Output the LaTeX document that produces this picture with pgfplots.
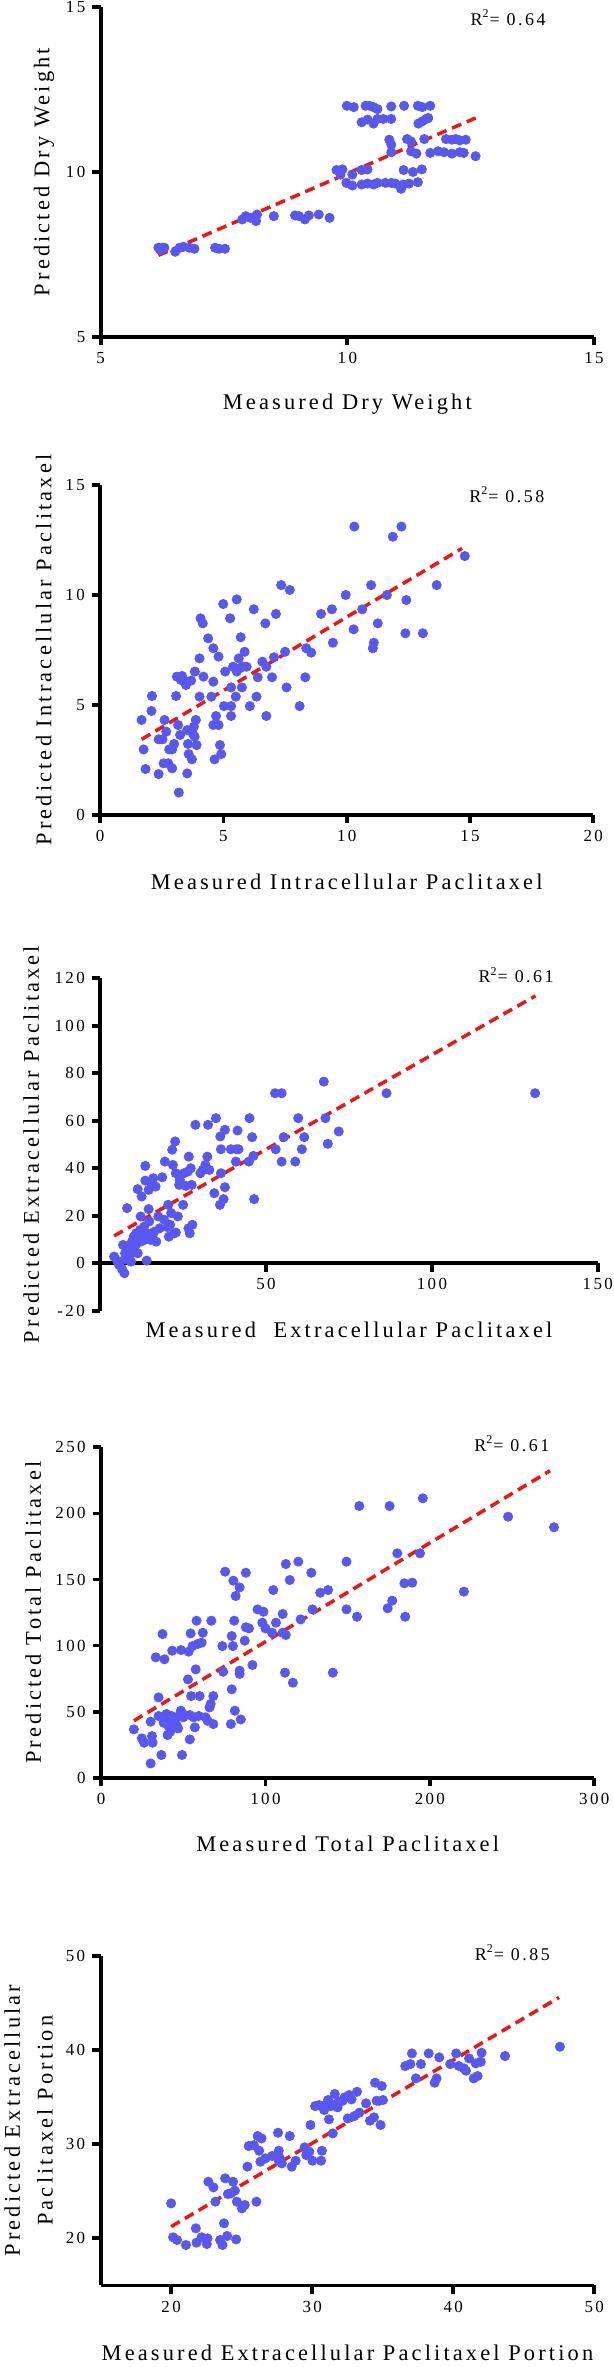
\documentclass[border=0pt]{standalone}
\usepackage{fontspec}
\setmainfont{Liberation Serif}[LetterSpace=14]
\usepackage{pgfplots}
\pgfplotsset{compat=1.18}

\definecolor{dotblue}{RGB}{88,88,240}
\definecolor{fitred}{RGB}{240,20,20}

\tikzset{rsq/.style={font=\fontsize{9}{11}\selectfont, anchor=center}}
\pgfplotsset{
  panel/.style={
    scale only axis, clip=false,
    axis x line*=bottom, axis y line*=left,
    axis line style={line width=1.9bp},
    tick style={line width=1.9bp, black},
    major tick length=4.2bp, tick align=outside,
    minor tick num=0,
    ticklabel style={font=\fontsize{8.5}{10}\selectfont},
    label style={font=\fontsize{11.25}{13.5}\selectfont},
    /pgf/number format/assume math mode=true,
  },
  dots/.style={only marks, mark=*, mark size=2.3bp, color=dotblue, mark options={draw=dotblue, fill=dotblue}},
  fit/.style={no marks, color=fitred, line width=1.75bp, dash pattern=on 5bp off 3bp},
}

\begin{document}
\begin{tikzpicture}
\useasboundingbox (0,0) rectangle (307bp,-1183.5bp);

% ---------- dry weight
\begin{axis}[panel, at={(50.35bp,-168.35bp)}, anchor=south west,
  width=246.65bp, height=164.7bp,
  xmin=5, xmax=15, ymin=5, ymax=15,
  xtick={5,10,15}, ytick={5,10,15},
  xlabel={Measured Dry Weight}, ylabel={Predicted Dry Weight},
  xlabel style={at={(axis description cs:0.5,-0.2043)}, anchor=center},
  ylabel style={at={(axis description cs:-0.1149,0.5)}, anchor=center},
]
\addplot[dots] table {
x y
6.17 7.70
6.25 7.70
6.21 7.63
6.29 7.70
6.51 7.58
6.60 7.70
6.68 7.73
6.80 7.70
6.90 7.67
7.32 7.70
7.40 7.67
7.52 7.67
7.87 8.56
7.94 8.66
8.03 8.61
8.15 8.51
8.17 8.71
8.51 8.66
8.94 8.68
9.02 8.66
9.14 8.56
9.22 8.68
9.42 8.71
9.64 8.61
9.99 12.01
10.13 11.97
10.37 12.01
10.45 12.01
10.53 11.97
10.61 11.91
10.89 11.99
11.15 12.01
11.43 12.01
11.52 11.97
11.68 12.01
10.29 11.51
10.41 11.59
10.53 11.47
10.61 11.61
10.73 11.61
10.89 11.61
11.44 11.47
11.52 11.54
11.60 11.61
11.64 11.64
10.85 10.98
10.89 10.83
11.21 11.00
11.29 10.93
11.56 11.00
12.00 11.00
12.12 10.98
12.20 11.00
12.28 10.96
12.40 10.98
10.89 10.60
11.29 10.63
11.40 10.56
11.68 10.58
11.84 10.63
11.96 10.60
12.12 10.56
12.28 10.60
12.36 10.58
12.60 10.48
9.78 10.06
9.90 10.08
9.86 9.92
10.10 9.92
10.29 10.06
10.41 10.08
11.14 10.06
11.33 10.00
11.51 10.08
9.98 9.67
10.10 9.59
10.29 9.62
10.41 9.65
10.53 9.62
10.61 9.67
10.77 9.67
10.89 9.67
10.97 9.65
11.09 9.49
11.13 9.62
11.25 9.65
11.43 9.69
};
\addplot[fit] coordinates {(6.17,7.47) (12.60,11.64)};
\node[rsq] at (rel axis cs:0.826,0.969) {R\textsuperscript{2}= 0.64};
\end{axis}

% ---------- intracellular
\begin{axis}[panel, at={(50.1bp,-407.5bp)}, anchor=south west,
  width=246.5bp, height=165bp,
  xmin=0, xmax=20, ymin=0, ymax=15,
  xtick={0,5,10,15,20}, ytick={0,5,10,15},
  xlabel={Measured Intracellular Paclitaxel}, ylabel={Predicted Intracellular Paclitaxel},
  xlabel style={at={(axis description cs:0.5,-0.2021)}, anchor=center},
  ylabel style={at={(axis description cs:-0.1144,0.5)}, anchor=center},
]
\addplot[dots] table {
x y
1.68 4.32
1.76 2.98
1.84 2.09
2.08 4.73
2.10 5.41
2.37 1.86
2.37 3.44
2.57 2.35
2.61 4.32
2.53 3.44
2.68 3.79
2.76 2.35
2.80 2.98
2.92 2.98
2.92 2.12
3.00 3.23
3.08 5.41
3.11 6.29
3.16 4.09
3.19 1.02
3.24 3.64
3.27 6.14
3.32 6.32
3.40 6.11
3.48 5.91
3.53 3.86
3.53 1.89
3.56 3.23
3.59 2.77
3.69 6.11
3.72 2.53
3.75 3.71
3.80 4.02
3.83 3.56
3.84 6.52
3.88 4.32
3.91 3.18
4.03 5.38
4.03 7.12
4.07 8.94
4.16 8.71
4.19 6.29
4.38 8.03
4.51 5.38
4.59 6.06
4.59 7.58
4.59 4.09
4.64 2.53
4.70 4.50
4.80 7.20
4.80 4.09
4.86 3.18
4.91 2.77
4.99 9.59
5.02 4.95
5.07 6.52
5.27 8.94
5.31 5.80
5.31 4.95
5.31 4.50
5.39 6.74
5.50 5.38
5.54 9.80
5.54 6.52
5.62 7.12
5.66 6.67
5.70 8.08
5.75 5.80
5.78 6.74
5.86 7.42
5.94 6.74
6.07 4.95
6.23 9.35
6.34 5.38
6.39 6.26
6.58 6.97
6.70 8.71
6.74 6.74
6.74 4.50
6.97 6.26
7.05 7.17
7.13 9.14
7.34 10.45
7.50 7.42
7.56 5.80
7.69 10.23
8.09 4.95
8.32 6.26
8.36 7.58
8.56 7.38
8.96 9.14
9.40 9.35
9.44 7.83
9.96 10.00
10.28 8.44
10.31 13.11
10.63 9.35
10.99 10.45
11.06 7.58
11.10 7.83
11.26 8.71
11.63 10.00
11.87 12.65
12.22 13.11
12.38 8.26
12.42 9.77
13.09 8.26
13.65 10.45
14.79 11.77
};
\addplot[fit] coordinates {(1.68,3.44) (14.68,12.12)};
\node[rsq] at (rel axis cs:0.825,0.970) {R\textsuperscript{2}= 0.58};
\end{axis}

% ---------- extracellular
\begin{axis}[panel, at={(50.1bp,-655.35bp)}, anchor=south west,
  width=248.8bp, height=166.2bp,
  axis x line*=middle,
  xmin=0, xmax=150, ymin=-20, ymax=120,
  xtick={50,100,150}, ytick={-20,0,20,40,60,80,100,120},
  xlabel={Measured \ Extracellular Paclitaxel}, ylabel={Predicted Extracellular Paclitaxel},
  xlabel style={at={(axis description cs:0.5,-0.0581)}, anchor=center},
  ylabel style={at={(axis description cs:-0.1387,0.5)}, anchor=center},
]
\addplot[dots] table {
x y
4.2 2.8
5.1 1.1
5.7 -0.7
6.6 -2.5
7.3 -4.2
7.5 1.7
6.9 7.7
7.5 4.2
8.1 23.2
8.1 5.6
8.7 7.3
8.9 3.5
9.3 0.7
9.6 9.1
9.9 4.9
10.1 11.2
10.5 7.0
10.8 12.6
11.0 8.4
11.3 4.2
11.6 10.5
12.0 14.0
12.2 9.1
12.2 19.7
12.5 28.1
12.8 11.9
11.3 31.2
13.2 15.4
13.4 9.8
13.6 41.0
13.6 34.8
14.0 1.1
14.3 12.6
14.6 22.8
14.8 17.6
14.6 30.9
15.2 9.8
15.5 33.7
15.8 11.9
16.0 35.8
16.3 13.3
16.7 32.3
16.9 9.1
17.5 19.7
17.9 14.7
18.7 36.2
19.3 18.3
19.5 42.8
20.3 15.2
20.5 24.6
20.7 11.2
21.1 16.2
21.4 21.1
21.7 47.8
21.9 41.4
22.3 12.6
22.6 51.3
22.8 37.9
22.8 12.9
23.4 19.7
23.8 33.0
24.0 35.1
25.0 24.6
25.2 37.9
25.8 32.6
26.4 38.6
26.6 14.7
26.7 44.9
27.0 12.6
27.3 40.0
27.6 33.0
27.8 16.2
28.7 58.3
30.2 37.9
30.9 39.3
31.7 41.4
32.3 44.9
32.5 58.3
32.9 39.3
34.4 29.5
34.9 61.1
36.1 24.6
36.2 53.4
36.4 48.0
36.4 37.9
37.2 27.0
37.6 32.0
37.6 56.2
39.4 48.0
40.9 42.8
41.1 48.0
41.4 55.9
41.7 48.0
44.8 42.8
45.0 61.1
45.8 53.1
46.2 45.2
46.4 27.0
52.7 71.6
52.9 48.0
54.7 71.6
54.7 42.8
55.3 53.1
58.8 42.8
59.7 61.1
60.8 48.0
61.5 53.1
67.4 76.5
67.9 61.1
68.6 50.3
71.9 55.5
86.3 71.6
131.1 71.6
};
\addplot[fit] coordinates {(4.2,11.5) (131.2,112.6)};
\node[rsq] at (rel axis cs:0.836,1.01) {R\textsuperscript{2}= 0.61};
\end{axis}

% ---------- total
\begin{axis}[panel, at={(50.5bp,-888.85bp)}, anchor=south west,
  width=246.65bp, height=165.2bp,
  xmin=0, xmax=300, ymin=0, ymax=250,
  xtick={0,100,200,300}, ytick={0,50,100,150,200,250},
  xlabel={Measured Total Paclitaxel}, ylabel={Predicted Total Paclitaxel},
  xlabel style={at={(axis description cs:0.5,-0.2007)}, anchor=center},
  ylabel style={at={(axis description cs:-0.1372,0.5)}, anchor=center},
]
\addplot[dots] table {
x y
20.0 36.6
24.8 29.8
26.2 26.5
30.2 42.4
30.2 10.8
31.0 31.5
31.4 26.5
33.3 91.1
35.0 60.8
35.0 46.7
36.7 17.2
37.4 108.7
38.1 41.6
38.6 89.6
39.8 48.2
40.5 32.3
41.0 39.1
41.4 44.1
42.1 34.8
42.9 46.7
43.3 96.1
43.8 40.6
45.2 44.1
46.2 39.1
46.9 37.3
47.6 46.7
48.6 96.6
48.6 50.7
49.3 17.2
50.0 45.7
51.0 47.4
52.9 74.4
53.3 95.4
54.0 29.0
54.0 47.4
54.5 109.2
54.8 61.8
55.7 99.6
56.4 45.7
57.1 38.1
57.6 82.0
58.1 118.8
58.8 101.2
59.5 46.7
60.0 61.8
61.2 102.2
61.9 109.7
63.6 45.7
64.8 43.1
66.0 53.2
66.7 55.8
67.1 118.8
68.3 61.8
68.3 40.6
73.8 99.6
74.3 80.2
75.5 155.9
79.0 40.6
79.5 66.9
79.5 107.2
80.2 99.6
80.5 149.1
81.0 118.8
81.4 50.7
81.9 137.5
84.3 144.0
84.3 81.0
84.3 78.5
85.0 44.1
87.4 103.7
88.1 155.1
88.1 113.8
90.0 113.0
92.1 85.3
95.2 127.4
98.1 117.3
98.8 125.6
100.0 113.0
104.0 109.7
104.8 142.0
106.4 117.3
110.5 123.9
110.5 109.7
111.9 79.5
112.4 161.7
112.4 108.0
114.8 149.6
116.7 71.9
120.0 163.5
121.4 119.8
127.9 155.1
128.6 127.4
133.3 140.0
138.1 142.0
141.0 79.5
149.3 163.5
149.3 127.4
155.7 121.8
157.1 205.6
174.3 128.2
175.5 205.6
177.1 134.0
180.2 169.8
184.5 147.1
185.0 121.8
189.3 147.6
194.0 169.8
195.7 211.4
220.7 140.8
247.6 197.5
275.5 189.5
};
\addplot[fit] coordinates {(20,43.1) (273.1,232.3)};
\node[rsq] at (rel axis cs:0.833,1.012) {R\textsuperscript{2}= 0.61};
\end{axis}

% ---------- extracellular portion
\begin{axis}[panel, at={(50.3bp,-1142.7bp)}, anchor=south west,
  width=246.85bp, height=164.85bp,
  xmin=15, xmax=50, ymin=15, ymax=50,
  xtick={20,30,40,50}, ytick={20,30,40,50},
  xlabel={Measured Extracellular Paclitaxel Portion},
  ylabel={Predicted Extracellular\\Paclitaxel Portion},
  xlabel style={at={(axis description cs:0.5,-0.2041)}, anchor=center},
  ylabel style={at={(axis description cs:-0.1460,0.5)}, anchor=center, align=center,
    font=\fontsize{11.25}{16.5}\selectfont},
]
\addplot[dots] table {
x y
20.00 23.71
20.14 20.11
20.42 19.82
21.05 19.29
21.75 21.06
21.80 19.54
22.16 20.11
22.53 19.40
22.58 20.00
22.64 26.01
23.00 25.41
23.14 23.89
23.47 19.82
23.64 19.29
23.75 21.59
23.83 26.37
23.97 20.25
24.02 24.70
24.25 24.78
24.39 26.01
24.52 25.06
24.61 19.89
24.66 23.89
25.02 23.18
25.22 23.54
25.41 27.61
25.50 29.80
25.86 29.90
26.05 23.89
26.13 30.86
26.24 29.30
26.33 28.14
26.41 30.61
26.69 28.49
27.16 28.74
27.58 31.21
27.63 29.30
27.63 28.24
27.72 28.49
27.85 27.96
28.41 30.86
28.55 27.61
28.83 28.24
29.46 29.66
29.58 28.84
29.80 29.20
29.88 32.03
30.02 28.24
30.21 34.04
30.49 34.15
30.63 28.24
30.69 29.30
30.85 33.62
30.96 34.15
31.13 34.68
31.19 32.63
31.32 34.04
31.46 31.14
31.60 35.32
31.68 34.26
31.80 33.90
31.96 34.50
32.16 34.61
32.30 34.96
32.52 32.73
32.63 35.21
32.79 34.75
32.99 32.98
33.18 35.56
33.35 33.34
33.82 34.33
34.10 32.49
34.38 32.84
34.46 36.52
34.57 34.61
34.85 32.03
34.93 36.17
35.02 34.68
36.60 38.29
36.96 38.50
37.07 39.63
37.35 36.98
37.71 38.50
38.26 39.63
38.68 36.52
38.82 36.98
39.01 39.21
39.79 38.50
40.21 39.63
40.40 38.29
40.76 38.04
40.90 37.79
41.12 39.10
41.45 36.98
41.59 38.57
41.73 37.23
42.01 39.70
41.95 38.74
43.67 39.35
47.56 40.34
};
\addplot[fit] coordinates {(20,21.24) (47.5,45.57)};
\node[rsq] at (rel axis cs:0.834,1.009) {R\textsuperscript{2}= 0.85};
\end{axis}
\end{tikzpicture}
\end{document}
